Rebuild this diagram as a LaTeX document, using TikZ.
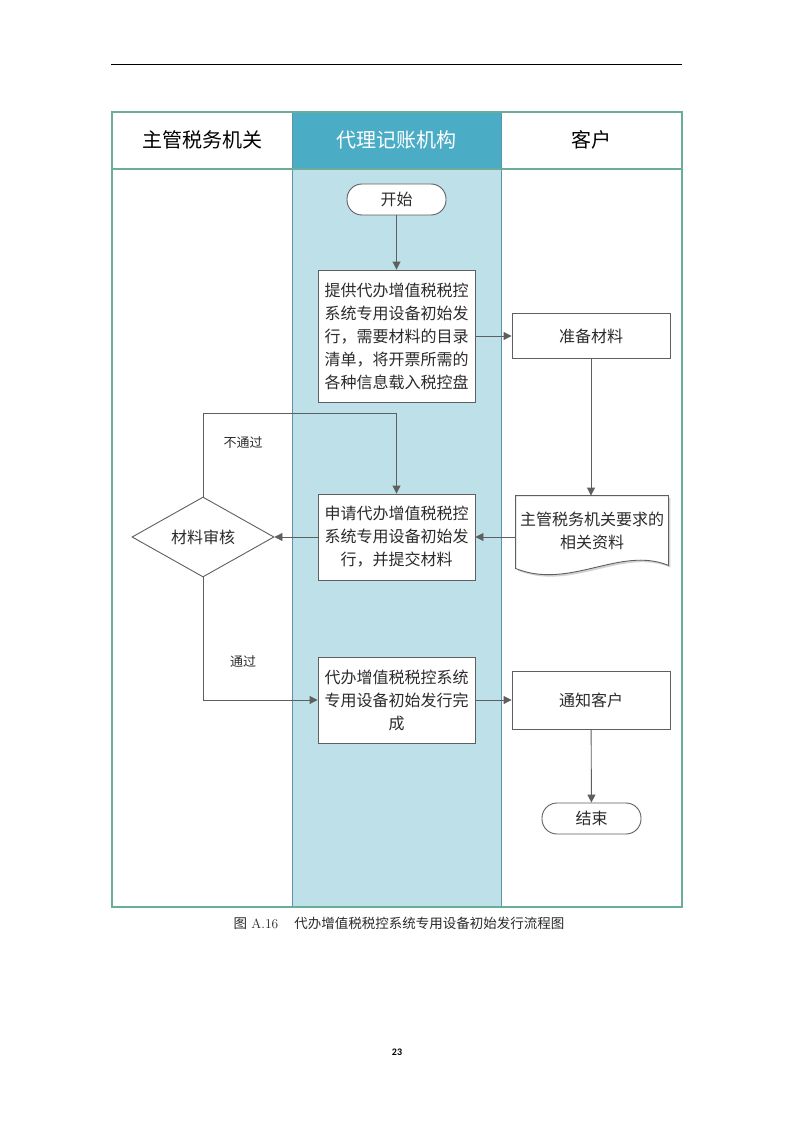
\documentclass[tikz,border=0pt]{standalone}
\usepackage{fontspec}
\newfontfamily\cjk{Noto Sans CJK SC}
\newfontfamily\carl{Carlito}
\usetikzlibrary{arrows.meta,shapes.geometric,calc}
\definecolor{framec}{HTML}{6AAD98}
\definecolor{midline}{HTML}{5A93AA}
\definecolor{headfill}{HTML}{4BACC6}
\definecolor{midfill}{HTML}{BEE0E8}
\definecolor{boxc}{HTML}{5F5F5F}
\definecolor{txtc}{HTML}{2B2B2B}
\tikzset{
  boxline/.style={draw=boxc, line width=0.9pt},
  proc/.style={boxline, fill=white, rectangle, inner sep=0pt, align=center, text=txtc,
    font=\cjk\fontsize{16}{23}\selectfont},
  term/.style={proc, rounded corners=15pt, minimum width=99pt, minimum height=31pt},
  decision/.style={proc, diamond, shape aspect=1.775, minimum width=142pt, minimum height=80pt},
  headtxt/.style={font=\cjk\fontsize{20}{24}\selectfont},
  lbl/.style={font=\cjk\fontsize{13}{15}\selectfont, text=txtc},
  arr/.style={draw=boxc, line width=0.9pt, -{Triangle[length=8pt,width=8pt]}},
}
\begin{document}
\begin{tikzpicture}[x=1pt,y=-1pt]
\useasboundingbox (0,0) rectangle (794,1123);
\fill[white] (0,0) rectangle (794,1123);
% page rule
\draw[black, line width=0.9pt] (111,64) -- (682,64);
% swimlanes
\fill[midfill] (292,169) rectangle (501,907);
\fill[headfill] (292,112) rectangle (501,169);
\draw[midline, line width=1pt] (292,112) -- (292,907);
\draw[midline, line width=1pt] (501,112) -- (501,907);
\draw[framec, line width=1.2pt] (112,112) rectangle (682,907);
\draw[framec, line width=1.2pt] (112,169) -- (682,169);
\node[headtxt] (h1) at (202,140) {主管税务机关};
\node[headtxt, text=white] (h2) at (396.5,140) {代理记账机构};
\node[headtxt] (h3) at (591.5,140) {客户};
% nodes
\node[term] (start) at (396.5,199.5) {开始};
\node[proc, minimum width=157pt, minimum height=132pt] (p1) at (396.5,336)
  {提供代办增值税税控\\系统专用设备初始发\\行，需要材料的目录\\清单，将开票所需的\\各种信息载入税控盘};
\node[proc, minimum width=158pt, minimum height=45pt] (prep) at (591,336) {准备材料};
\node[proc, draw=none, fill=none, minimum width=152pt, minimum height=70pt] (doc) at (592,531) {};
\node[proc, minimum width=157pt, minimum height=86pt] (p2) at (396.5,537)
  {申请代办增值税税控\\系统专用设备初始发\\行，并提交材料};
\node[decision] (dec) at (203,537) {材料审核};
\node[proc, minimum width=157pt, minimum height=86pt] (p3) at (396.5,700)
  {代办增值税税控系统\\专用设备初始发行完\\成};
\node[proc, minimum width=158pt, minimum height=58pt] (notify) at (591,700) {通知客户};
\node[term] (end) at (591.5,818.5) {结束};
% document outline
\fill[gray!35] ($(doc.north west)+(2,2)$) -- ($(doc.north east)+(2,2)$) -- ($(doc.south east)+(2,1)$)
  .. controls ($(doc.south east)+(-46,-19)$) and ($(doc.south west)+(56,26)$) .. ($(doc.south west)+(2,4)$) -- cycle;
\draw[boxline, fill=white] (doc.north west) -- (doc.north east) -- ($(doc.south east)+(0,-1)$)
  .. controls ($(doc.south east)+(-48,-21)$) and ($(doc.south west)+(54,24)$) .. ($(doc.south west)+(0,2)$) -- cycle;
\node[proc, draw=none, fill=none] (doctxt) at (doc.center) {主管税务机关要求的\\相关资料};
% connectors
\draw[arr] (start) -- (p1);
\draw[arr] (p1.east) -- (prep.west);
\draw[arr] (prep.south) -- (prep.south |- doc.north);
\draw[arr] (doc.west |- p2.east) -- (p2.east);
\draw[arr] (p2.west) -- (dec.east);
\draw[arr] (dec.north) -- ++(0,-83) -| (p2.north);
\draw[arr] (dec.south) |- (p3.west);
\draw[arr] (p3.east) -- (notify.west);
\draw[arr] (notify) -- (end);
\node[lbl] (l1) at (243,443) {不通过};
\node[lbl] (l2) at (243,662) {通过};
% caption and page number
\node[font=\fontsize{13.5}{16}\selectfont, text=txtc] (cap) at (399,923)
  {{\cjk 图}\ A.16\hspace{1.2em}{\cjk 代办增值税税控系统专用设备初始发行流程图}};
\node[font=\carl\bfseries\fontsize{10}{12}\selectfont] (pg) at (397,1052) {23};
\end{tikzpicture}
\end{document}
